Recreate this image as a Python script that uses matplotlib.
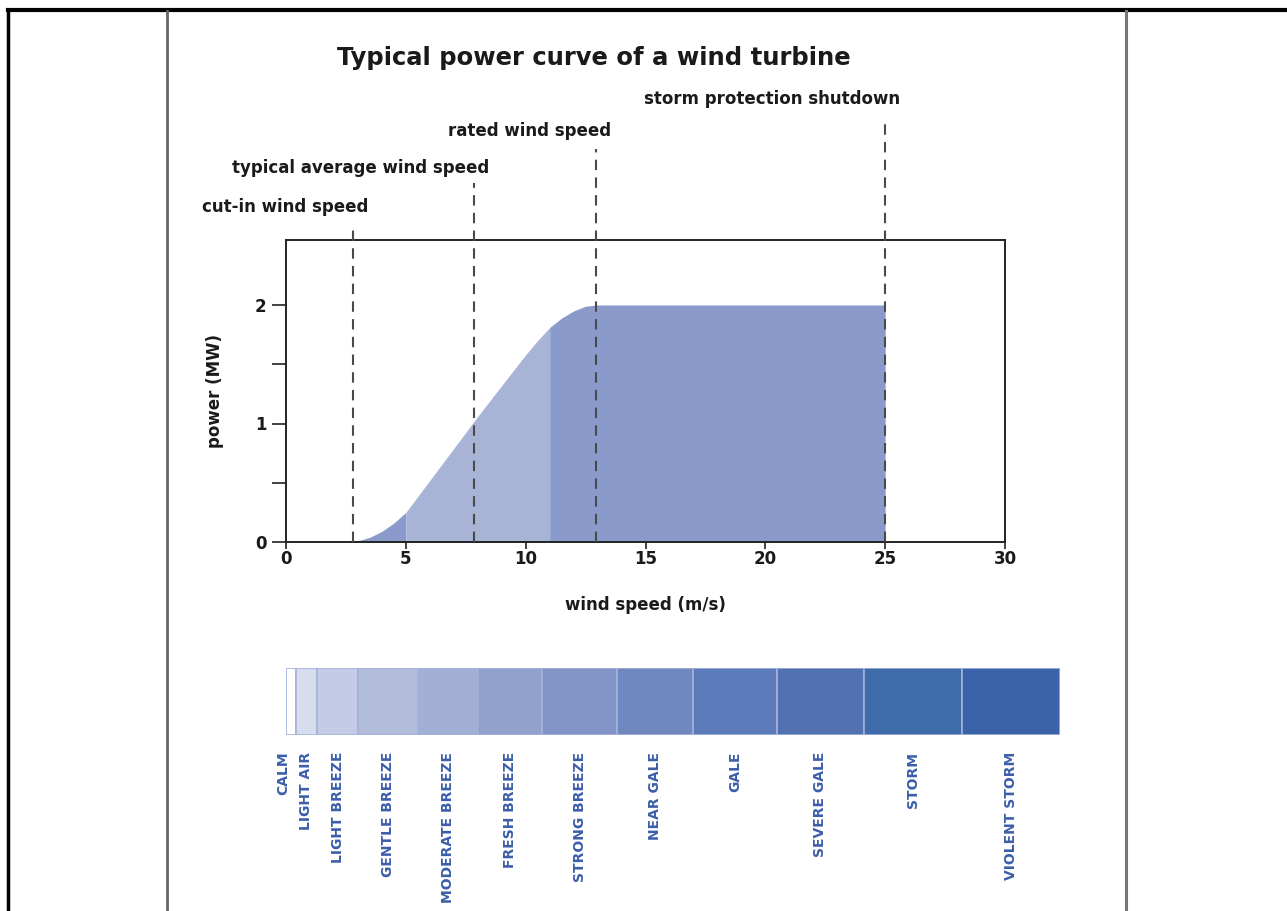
import numpy as np
import matplotlib
matplotlib.use("Agg")
import matplotlib.pyplot as plt
from matplotlib.lines import Line2D

# ---------------- data ----------------
wind_speed = [2.8, 3.0, 3.5, 4.0, 4.5, 5.0, 6.0, 7.0, 8.0, 9.0, 10.0, 10.5, 11.0, 11.5, 12.0, 12.5, 13.0, 25.0]
power_mw = [0.0, 0.01, 0.04, 0.09, 0.16, 0.25, 0.52, 0.79, 1.06, 1.32, 1.58, 1.70, 1.81, 1.89, 1.95, 1.99, 2.0, 2.0]

band_edges = [5.0, 11.0]  # colour change positions of the filled curve

marker_names = ["cut-in wind speed", "typical average wind speed", "rated wind speed", "storm protection shutdown"]
marker_speeds = [2.8, 7.85, 12.95, 25.0]

beaufort_names = ["CALM", "LIGHT AIR", "LIGHT BREEZE", "GENTLE BREEZE", "MODERATE BREEZE", "FRESH BREEZE",
                  "STRONG BREEZE", "NEAR GALE", "GALE", "SEVERE GALE", "STORM", "VIOLENT STORM"]
beaufort_edges = [0.0, 0.4, 1.3, 3.0, 5.5, 8.0, 10.7, 13.8, 17.0, 20.5, 24.1, 28.2, 32.3]
beaufort_colors = ["#ffffff", "#d7dcef", "#c5cae6", "#b3bedd", "#a2b0d5", "#8fa1cc", "#8294c8",
                   "#7088c0", "#5b7bbb", "#5171b0", "#3e6cab", "#3a62a8"]

x_ticks = [0, 5, 10, 15, 20, 25, 30]
y_ticks = [0, 0.5, 1, 1.5, 2]
y_ticklabels = ["0", "", "1", "", "2"]

# ---------------- layout ----------------
W, H = 1287, 911
fig = plt.figure(figsize=(W / 100, H / 100), dpi=100)
plt.rcParams['font.family'] = ['DejaVu Sans']

def fx(px):
    return px / W

def fy(py):
    return 1 - py / H

# page borders
fig.add_artist(Line2D([fx(8), fx(8)], [fy(10), 0], color="black", lw=2.5))
fig.add_artist(Line2D([fx(8), 1], [fy(10), fy(10)], color="black", lw=3))
fig.add_artist(Line2D([fx(167), fx(167)], [fy(11), 0], color="#666666", lw=2))
fig.add_artist(Line2D([fx(1126), fx(1126)], [fy(11), 0], color="#777777", lw=2.2))

ax_l, ax_r, ax_t, ax_b = 286, 1005, 240, 542
ax = fig.add_axes([fx(ax_l), fy(ax_b), (ax_r - ax_l) / W, (ax_b - ax_t) / H])
ymax = (ax_b - ax_t) / 118.5
ax.set_xlim(0, 30)
ax.set_ylim(0, ymax)

ws = np.array(wind_speed)
pw = np.array(power_mw)
light = "#a7b4d6"
dark = "#8a9acb"
m1 = ws <= band_edges[0]
m2 = (ws >= band_edges[0]) & (ws <= band_edges[1])
m3 = ws >= band_edges[1]
ax.fill_between(ws[m1], 0, pw[m1], color=dark, lw=0)
ax.fill_between(ws[m2], 0, pw[m2], color=light, lw=0)
ax.fill_between(ws[m3], 0, pw[m3], color=dark, lw=0)

# dashed marker lines and labels
line_tops = [2.66, 3.03, 3.32, 3.56]
label_ys = [2.83, 3.16, 3.47, 3.74]
for name, s, top, ly in zip(marker_names, marker_speeds, line_tops, label_ys):
    ax.plot([s, s], [0, top], ls=(0, (5, 3.5)), color="#4a4a4a", lw=1.5, clip_on=False, zorder=3)
    ax.text(s + 0.62, ly, name, ha="right", va="center", fontsize=12, fontweight="bold",
            color="#1a1a1a", clip_on=False)

for sp in ax.spines.values():
    sp.set_color("#222222")
    sp.set_linewidth(1.4)
ax.set_xticks(x_ticks)
ax.set_yticks(y_ticks)
ax.set_yticklabels(y_ticklabels)
ax.tick_params(axis="x", direction="out", length=5, width=1.3, color="#333333", labelsize=12, pad=1)
ax.tick_params(axis="y", direction="out", length=10, width=1.3, color="#333333", labelsize=12, pad=4)
for lab in ax.get_xticklabels() + ax.get_yticklabels():
    lab.set_fontweight("bold")
    lab.set_color("#1a1a1a")
ax.set_xlabel("wind speed (m/s)", fontsize=12, fontweight="bold", color="#1a1a1a", labelpad=20)
ax.set_ylabel("power (MW)", fontsize=12, fontweight="bold", color="#1a1a1a", labelpad=22)

fig.text(fx(594), fy(58), "Typical power curve of a wind turbine", ha="center", va="center",
         fontsize=17.5, fontweight="bold", color="#1a1a1a")

# Beaufort bar
unit = (ax_r - ax_l) / 30
bar_w = unit * beaufort_edges[-1]
ax2 = fig.add_axes([fx(ax_l), fy(735), bar_w / W, 67 / H])
ax2.set_xlim(beaufort_edges[0], beaufort_edges[-1])
ax2.set_ylim(0, 1)
lefts = np.array(beaufort_edges[:-1])
widths = np.diff(beaufort_edges)
ax2.bar(lefts, [1] * len(widths), width=widths, align="edge", color=beaufort_colors,
        edgecolor="#a5b2da", linewidth=1.2)
ax2.axis("off")
centers = lefts + widths / 2
for i, (name, c) in enumerate(zip(beaufort_names, centers)):
    cx = c - 0.3 if i == 0 else c
    ax2.text(cx, -0.25, name, rotation=90, ha="center", va="top", fontsize=10,
             fontweight="bold", color="#3c5ea8", family=["Liberation Sans Narrow", "DejaVu Sans"])

fig.savefig("out.png", dpi=100)
